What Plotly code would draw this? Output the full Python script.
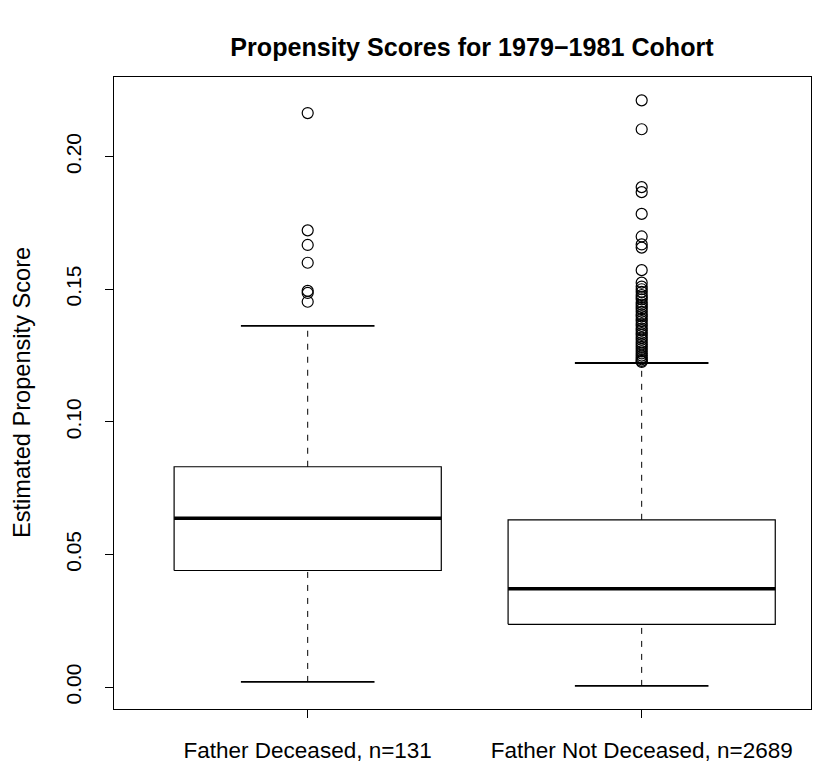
import plotly.graph_objects as go

# Five-number summaries of the estimated propensity scores per group
groups = ["Father Deceased, n=131", "Father Not Deceased, n=2689"]
lower_whisker = [0.0020, 0.0005]
q1 = [0.0440, 0.0237]
median = [0.0637, 0.0371]
q3 = [0.0831, 0.0631]
upper_whisker = [0.1362, 0.1222]

# Points beyond the upper whisker
outliers_deceased = [0.2164, 0.1722, 0.1667, 0.1600, 0.1494, 0.1486, 0.1453]
outliers_not_deceased = [
    0.2212, 0.2103, 0.1885, 0.1866, 0.1784, 0.1699, 0.1669, 0.1657, 0.1572,
    0.1525, 0.1510, 0.1500, 0.1490, 0.1478, 0.1470, 0.1462, 0.1450, 0.1442,
    0.1433, 0.1425, 0.1415, 0.1405, 0.1398, 0.1388, 0.1380, 0.1370, 0.1362,
    0.1352, 0.1345, 0.1335, 0.1328, 0.1318, 0.1310, 0.1300, 0.1292, 0.1283,
    0.1275, 0.1266, 0.1258, 0.1250, 0.1243, 0.1236, 0.1230, 0.1226,
]
outliers = [outliers_deceased, outliers_not_deceased]

y_ticks = [0.00, 0.05, 0.10, 0.15, 0.20]
y_ticktext = ["0.00", "0.05", "0.10", "0.15", "0.20"]

FONT = "Liberation Sans, Arial, Helvetica, sans-serif"
HALF_BOX = 0.4
HALF_CAP = 0.2

fig = go.Figure()
line_kw = dict(mode="lines", hoverinfo="skip", showlegend=False)

for i, name in enumerate(groups):
    xc = i + 1
    xl, xr = xc - HALF_BOX, xc + HALF_BOX
    # dashed whiskers
    fig.add_trace(go.Scatter(x=[xc, xc], y=[q3[i], upper_whisker[i]],
                             line=dict(color="black", width=1, dash="6px,7px"), **line_kw))
    fig.add_trace(go.Scatter(x=[xc, xc], y=[lower_whisker[i], q1[i]],
                             line=dict(color="black", width=1, dash="6px,7px"), **line_kw))
    # staples
    for w in (upper_whisker[i], lower_whisker[i]):
        fig.add_trace(go.Scatter(x=[xc - HALF_CAP, xc + HALF_CAP], y=[w, w],
                                 line=dict(color="black", width=1.8), **line_kw))
    # box
    fig.add_trace(go.Scatter(x=[xl, xr, xr, xl, xl],
                             y=[q1[i], q1[i], q3[i], q3[i], q1[i]],
                             line=dict(color="black", width=1.2), **line_kw))
    # median
    fig.add_trace(go.Scatter(x=[xl, xr], y=[median[i], median[i]],
                             line=dict(color="black", width=3.5), **line_kw))
    # outliers
    fig.add_trace(go.Scatter(x=[xc] * len(outliers[i]), y=outliers[i], mode="markers",
                             marker=dict(symbol="circle-open", size=11,
                                         color="black", line=dict(width=1.2)),
                             hoverinfo="skip", showlegend=False))

fig.update_layout(
    width=831, height=765, autosize=False,
    margin=dict(l=114, r=20, t=77, b=56, pad=0),
    paper_bgcolor="white", plot_bgcolor="white",
    font=dict(family=FONT, size=20, color="black"),
    title=dict(text="<b>Propensity Scores for 1979\u22121981 Cohort</b>",
               x=472 / 831, xanchor="center", xref="container", y=1 - 47 / 765,
               yanchor="middle", font=dict(size=25.1, family=FONT, color="black")),
    xaxis=dict(range=[0.42, 2.507], tickmode="array", tickvals=[1, 2], ticktext=groups,
               showgrid=False, zeroline=False, showline=True, mirror=True,
               linecolor="black", linewidth=1.2, ticks="outside", ticklen=8,
               tickcolor="black", tickwidth=1.2, ticklabelstandoff=13,
               tickfont=dict(size=22.5), automargin=False),
    yaxis=dict(range=[-0.0082, 0.2300], tickmode="array", tickvals=y_ticks,
               ticktext=y_ticktext, showgrid=False, zeroline=False, showline=True,
               mirror=True, linecolor="black", linewidth=1.2, ticks="outside",
               ticklen=8, tickcolor="black", tickwidth=1.2, tickangle=-90,
               ticklabelstandoff=16, tickfont=dict(size=21), automargin=False),
    annotations=[dict(text="Estimated Propensity Score", xref="paper", yref="paper",
                      x=0, y=0.5, xanchor="center", yanchor="middle", xshift=-92,
                      textangle=-90, showarrow=False, font=dict(size=23.6))],
)

fig.write_html("out.html")
